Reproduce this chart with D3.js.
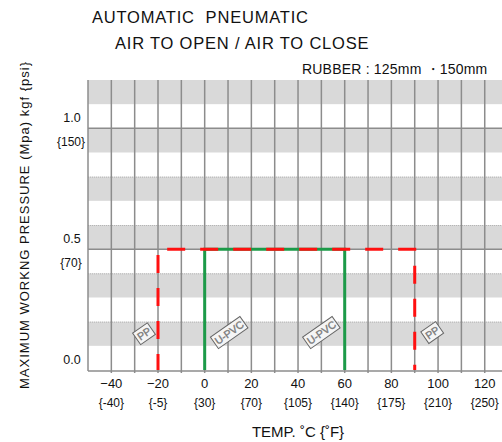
<!DOCTYPE html>
<html>
<head>
<script src="https://cdn.jsdelivr.net/npm/d3@7"></script>
<style>
  body { margin: 0; background: #fff; }
  text { font-family: "Liberation Sans", Arial, sans-serif; fill: #111; }
</style>
</head>
<body>
<svg id="chart" width="502" height="442"></svg>
<script>
// temperature axis (deg C) and matching fahrenheit labels
var tempTicks = [-40, -20, 0, 20, 40, 60, 80, 100, 120];
var fahrLabels = ["{-40}", "{-5}", "{30}", "{70}", "{105}", "{140}", "{175}", "{210}", "{250}"];
var gridTemps = d3.range(-40, 121, 10);

// pressure axis (MPa) and psi labels
var pressureTicks = [0.0, 0.5, 1.0];
var psiLabels = ["", "{70}", "{150}"];
var bandStarts = [0.1, 0.3, 0.5, 0.7, 0.9, 1.1];

// material limits
var ppLine = [[-20, 0], [-20, 0.5], [90, 0.5], [90, 0]];
var pvcLine = [[0, 0], [0, 0.5], [60, 0.5], [60, 0]];

// tags on the curves
var tagNames = ["PP", "U-PVC", "U-PVC", "PP"];
var tagTemps = [-26, 10.5, 50, 97.5];
var tagPress = [0.15, 0.155, 0.155, 0.155];

var svg = d3.select("#chart");
var plotL = 88, plotR = 502, plotT = 80, plotB = 370;

var x = d3.scaleLinear().domain([-50, 127.4]).range([plotL, plotR]);
var y = d3.scaleLinear().domain([0, 1.2]).range([plotB, plotT]);

// gray bands
svg.append("g").selectAll("rect")
  .data(bandStarts)
  .enter().append("rect")
    .attr("x", plotL)
    .attr("width", plotR - plotL)
    .attr("y", function(d) { return y(d + 0.1); })
    .attr("height", function(d) { return y(d) - y(d + 0.1); })
    .attr("fill", "#d9d9d9");

// dotted top edges on the lower bands
svg.append("g").selectAll("line")
  .data(bandStarts.slice(0, 4))
  .enter().append("line")
    .attr("x1", plotL).attr("x2", plotR)
    .attr("y1", function(d) { return y(d + 0.1) + 0.5; })
    .attr("y2", function(d) { return y(d + 0.1) + 0.5; })
    .attr("stroke", "#b5b5b5")
    .attr("stroke-width", 1)
    .attr("stroke-dasharray", "1,1");

// vertical grid
svg.append("g").selectAll("line")
  .data(gridTemps)
  .enter().append("line")
    .attr("x1", function(d) { return x(d); })
    .attr("x2", function(d) { return x(d); })
    .attr("y1", plotT).attr("y2", plotB + 3)
    .attr("stroke", "#8c8c8c")
    .attr("stroke-width", 1.5);

// horizontal grid at 0.5 and 1.0
svg.append("g").selectAll("line")
  .data(pressureTicks.slice(1))
  .enter().append("line")
    .attr("x1", plotL).attr("x2", plotR)
    .attr("y1", function(d) { return y(d); })
    .attr("y2", function(d) { return y(d); })
    .attr("stroke", "#8c8c8c")
    .attr("stroke-width", 1.5);

// axes lines
svg.append("line")
  .attr("x1", plotL).attr("x2", plotL)
  .attr("y1", plotT).attr("y2", plotB + 1)
  .attr("stroke", "#8c8c8c").attr("stroke-width", 1.5);
svg.append("line")
  .attr("x1", plotL).attr("x2", plotR)
  .attr("y1", plotB + 1).attr("y2", plotB + 1)
  .attr("stroke", "#8c8c8c").attr("stroke-width", 1.5);

// limit lines
var line = d3.line()
  .x(function(d) { return x(d[0]); })
  .y(function(d) { return y(d[1]); });

svg.append("path")
  .attr("d", line(pvcLine))
  .attr("fill", "none")
  .attr("stroke", "#1c9a48")
  .attr("stroke-width", 3);

svg.append("path")
  .attr("d", line(ppLine))
  .attr("fill", "none")
  .attr("stroke", "#ff1010")
  .attr("stroke-width", 3)
  .attr("stroke-dasharray", "18,15")
  .attr("stroke-dashoffset", 2);

// tags
var tags = svg.append("g").selectAll("g")
  .data(tagNames)
  .enter().append("g")
    .attr("transform", function(d, i) {
      return "translate(" + x(tagTemps[i]) + "," + y(tagPress[i]) + ") rotate(-35)";
    });
tags.append("rect")
  .attr("x", function(d) { return -(d.length * 6 + 6) / 2; })
  .attr("y", -7)
  .attr("width", function(d) { return d.length * 6 + 6; })
  .attr("height", 14)
  .attr("fill", "#f5f5f5")
  .attr("stroke", "#666")
  .attr("stroke-width", 1);
tags.append("text")
  .attr("text-anchor", "middle")
  .attr("dy", "0.36em")
  .style("font-size", "10.5px")
  .style("fill", "#6a6a6a")
  .style("stroke", "#8a8a8a")
  .style("stroke-width", 0.4)
  .text(function(d) { return d; });

// x tick labels
svg.append("g").selectAll("text")
  .data(tempTicks)
  .enter().append("text")
    .attr("x", function(d) { return x(d); })
    .attr("y", 388)
    .attr("text-anchor", "middle")
    .style("font-size", "13px")
    .text(function(d) { return d < 0 ? "\u2212" + Math.abs(d) : d; });

svg.append("g").selectAll("text")
  .data(fahrLabels)
  .enter().append("text")
    .attr("x", function(d, i) { return x(tempTicks[i]); })
    .attr("y", 407)
    .attr("text-anchor", "middle")
    .style("font-size", "12px")
    .text(function(d) { return d; });

svg.append("text")
  .attr("x", 298).attr("y", 437)
  .attr("text-anchor", "middle")
  .style("font-size", "15px")
  .text("TEMP. \u02DAC {\u02DAF}");

// y tick labels
svg.append("g").selectAll("text")
  .data(pressureTicks)
  .enter().append("text")
    .attr("x", 72)
    .attr("y", function(d) { return y(d) - 6; })
    .attr("text-anchor", "middle")
    .style("font-size", "12.5px")
    .text(function(d) { return d.toFixed(1); });

svg.append("g").selectAll("text")
  .data(psiLabels)
  .enter().append("text")
    .attr("x", 71)
    .attr("y", function(d, i) { return y(pressureTicks[i]) + 18; })
    .attr("text-anchor", "middle")
    .style("font-size", "12px")
    .text(function(d) { return d; });

svg.append("text")
  .attr("transform", "translate(29,225) rotate(-90)")
  .attr("text-anchor", "middle")
  .style("font-size", "13px")
  .style("letter-spacing", "1px")
  .text("MAXIMUM WORKNG PRESSURE (Mpa) kgf {psi}");

// titles
svg.append("text")
  .attr("x", 92).attr("y", 23)
  .style("font-size", "16.5px")
  .style("letter-spacing", "0.8px")
  .text("AUTOMATIC\u00A0\u00A0PNEUMATIC");
svg.append("text")
  .attr("x", 115).attr("y", 49)
  .style("font-size", "16.5px")
  .style("letter-spacing", "0.8px")
  .text("AIR TO OPEN / AIR TO CLOSE");
svg.append("text")
  .attr("x", 302).attr("y", 74)
  .style("font-size", "14px")
  .style("letter-spacing", "0.2px")
  .text("RUBBER\u00A0:\u00A0125mm\u00A0\u30FB150mm");
</script>
</body>
</html>
